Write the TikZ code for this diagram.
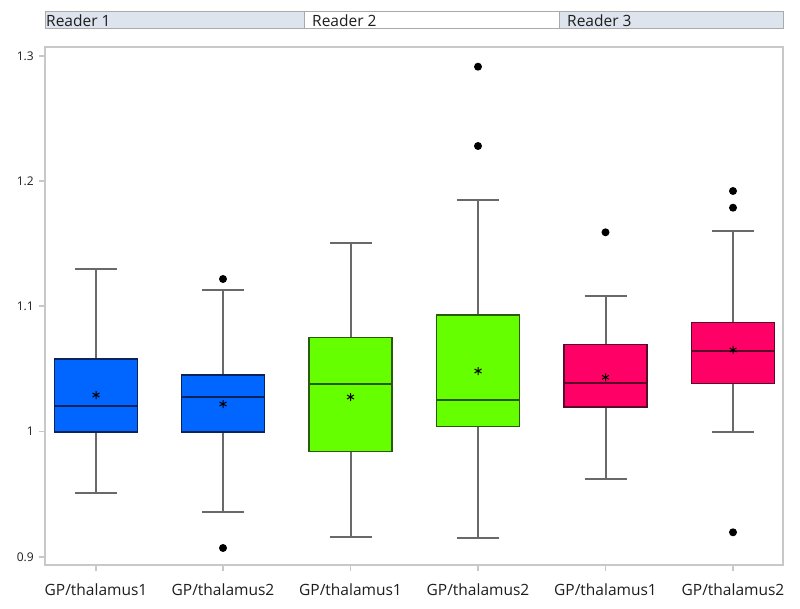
\documentclass[tikz,border=0pt]{standalone}
\usepackage{fontspec}
\setmainfont{Open Sans}
\definecolor{bblue}{RGB}{0,102,255}
\definecolor{bblueE}{RGB}{10,35,90}
\definecolor{bgreen}{RGB}{102,255,0}
\definecolor{bgreenE}{RGB}{40,90,10}
\definecolor{bpink}{RGB}{255,0,102}
\definecolor{bpinkE}{RGB}{90,10,40}
\definecolor{hdrfill}{RGB}{221,228,238}
\definecolor{hdrline}{RGB}{170,170,170}
\definecolor{framec}{RGB}{200,200,200}
\definecolor{whiskc}{RGB}{105,105,105}
\definecolor{txtc}{RGB}{30,30,30}
\tikzset{
  whisk/.style={draw=whiskc, line width=2pt},
  hdrcell/.style={draw=hdrline, line width=1pt},
  outl/.style={fill=black, draw=none},
  ticklab/.style={font=\fontsize{12}{13}\selectfont, text=txtc, anchor=east, inner sep=0pt},
  catlab/.style={font=\fontsize{15.5}{16}\selectfont, text=txtc, anchor=center, inner sep=0pt},
  hdrlab/.style={font=\fontsize{15.5}{16}\selectfont, text=txtc, anchor=west, inner sep=0pt},
  tickmark/.style={draw=framec, line width=1.2pt}
}
% #1 cx, #2 whisker top, #3 Q3, #4 median, #5 Q1, #6 whisker low, #7 mean, #8 fill, #9 edge
\newcommand\mybxp[9]{%
  \draw[whisk] (#1,#2) -- (#1,#3) (#1,#5) -- (#1,#6);
  \draw[whisk] (#1-21,#2) -- (#1+21,#2) (#1-21,#6) -- (#1+21,#6);
  \filldraw[fill=#8, draw=#9, line width=1.3pt] (#1-41.5,#3) rectangle (#1+41.5,#5);
  \draw[draw=#9, line width=1.8pt] (#1-41.5,#4) -- (#1+41.5,#4);
  \draw[black, line width=1pt] (#1,#7-4) -- (#1,#7+4) (#1-3.5,#7-2) -- (#1+3.5,#7+2) (#1-3.5,#7+2) -- (#1+3.5,#7-2);
}
\newcommand\myout[2]{\fill[outl] (#1,#2) circle (4);}
\begin{document}
\begin{tikzpicture}[x=1pt,y=-1pt]
\useasboundingbox (0,0) rectangle (800,609);
\fill[white] (0,0) rectangle (800,609);
% header
\filldraw[hdrcell, fill=hdrfill] (45,12) rectangle (304,29);
\filldraw[hdrcell, fill=white] (304,12) rectangle (559,29);
\filldraw[hdrcell, fill=hdrfill] (559,12) rectangle (783,29);
\node[hdrlab] (h1) at (46,20.5) {Reader 1};
\node[hdrlab] (h2) at (312,20.5) {Reader 2};
\node[hdrlab] (h3) at (567,20.5) {Reader 3};
% frame
\draw[framec, line width=1.5pt] (45,47) rectangle (783,565);
% y ticks
\foreach \yy/\lab in {56/1.3,181/1.2,306/1.1,431.5/1,557/0.9}{
  \draw[tickmark] (39,\yy) -- (45,\yy);
  \node[ticklab] at (34,\yy) {\lab};
}
% x ticks and labels
\foreach \xx/\lab in {96/1,223/2,350.5/1,478/2,605.5/1,733/2}{
  \draw[tickmark] (\xx,565) -- (\xx,571);
  \node[catlab] at (\xx,590) {GP/thalamus\lab};
}
% boxes
\mybxp{96}{269}{359}{406}{432}{493}{395}{bblue}{bblueE}
\mybxp{223}{290}{375}{397}{432}{512}{404}{bblue}{bblueE}
\myout{223}{279}\myout{223}{548}
\mybxp{350.5}{243.3}{337.7}{384.3}{451.3}{536.7}{397}{bgreen}{bgreenE}
\mybxp{478}{200}{315}{400.3}{426.3}{537.7}{371}{bgreen}{bgreenE}
\myout{478}{66.7}\myout{478}{146}
\mybxp{605.5}{296.3}{344.7}{382.7}{407}{479.3}{377.3}{bpink}{bpinkE}
\myout{605.5}{232.3}
\mybxp{733}{231}{322.3}{351}{383.7}{431.7}{350}{bpink}{bpinkE}
\myout{733}{191}\myout{733}{207.7}\myout{733}{532.3}
\end{tikzpicture}
\end{document}
